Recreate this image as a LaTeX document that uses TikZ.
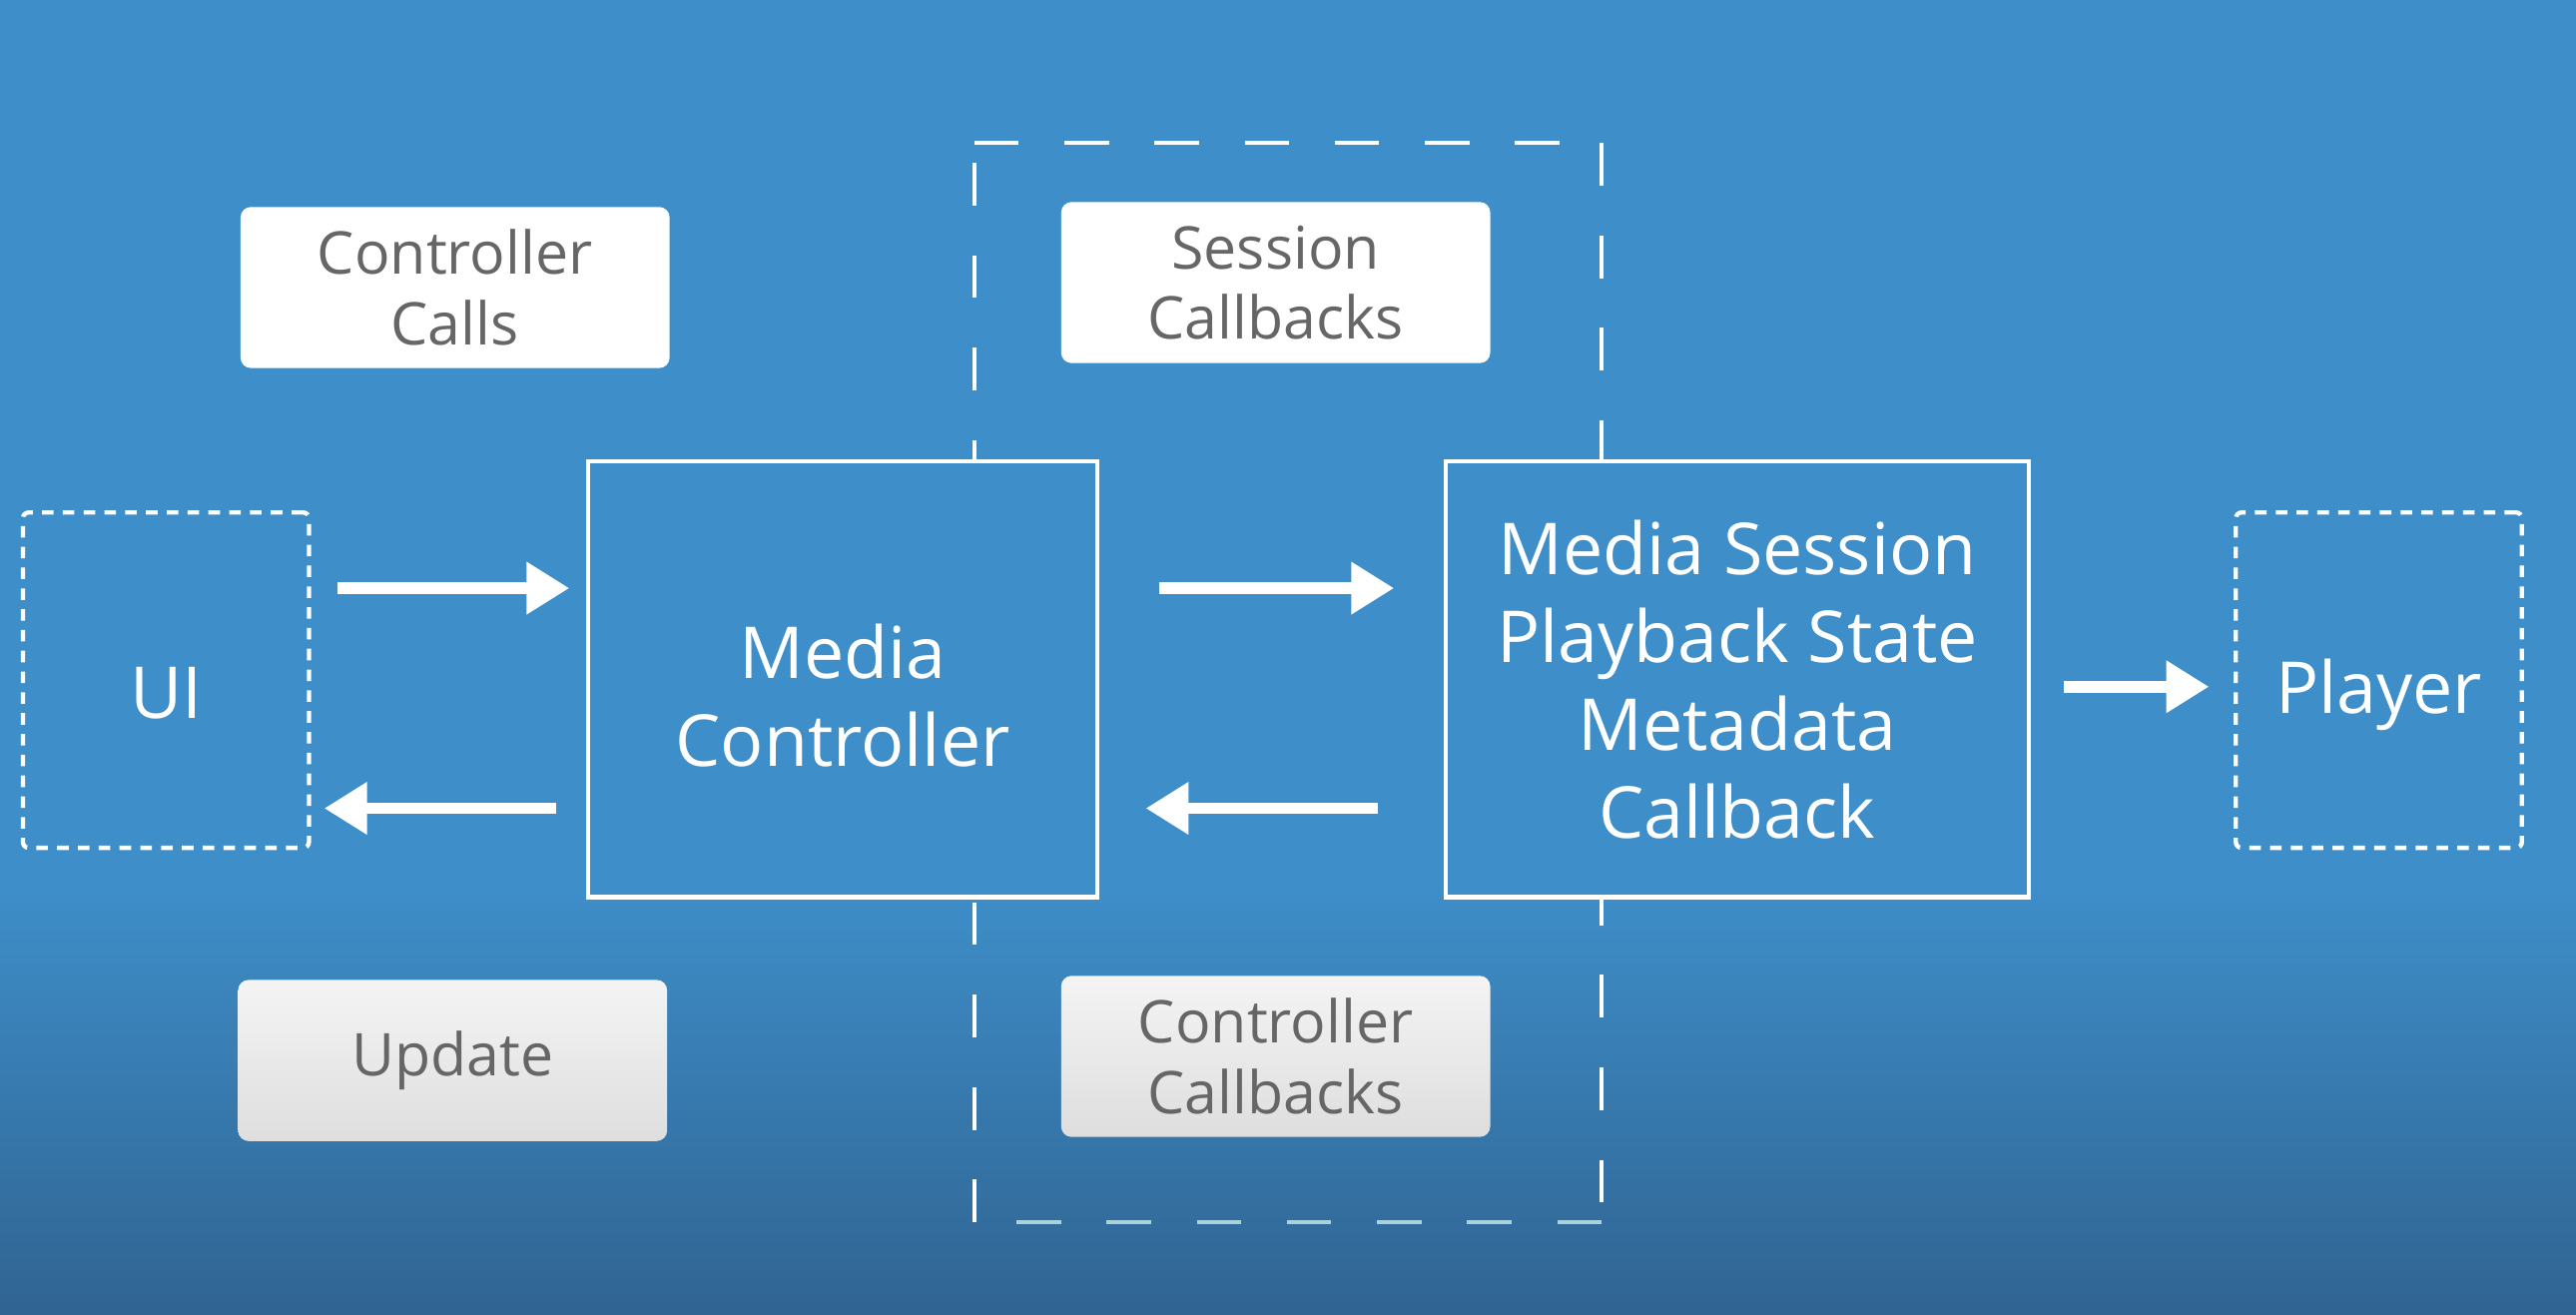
\documentclass[tikz,border=0pt]{standalone}
\usepackage{fontspec}
\setmainfont{Open Sans}
\usetikzlibrary{arrows.meta,calc}
\definecolor{bgtop}{RGB}{62,142,201}
\definecolor{bgbot}{RGB}{48,100,146}
\definecolor{lbl}{RGB}{102,102,102}
\definecolor{botdash}{RGB}{168,210,220}
\definecolor{gtop}{RGB}{244,244,244}
\definecolor{gbot}{RGB}{222,222,222}
\begin{document}
\begin{tikzpicture}[x=0.01cm,y=-0.01cm,
  bigtxt/.style={font=\fontsize{12.4}{15.2}\selectfont, text=white, align=center},
  solidbox/.style={draw=white, line width=0.75pt, fill=bgtop, inner sep=0pt},
  dashbox/.style={draw=white, line width=0.75pt, dash pattern=on 2pt off 1.6pt, rounded corners=1pt, inner sep=0pt},
  whitelbl/.style={fill=white, rounded corners=1.8pt, text=lbl, font=\fontsize{10.2}{12.2}\selectfont, align=center, inner sep=0pt, minimum width=2.61cm, minimum height=0.98cm},
  greylbl/.style={whitelbl, fill=none, top color=gtop, bottom color=gbot},
  flow/.style={draw=white, line width=2pt, -{Triangle[length=7.4pt,width=8.6pt]}},
  hdash/.style={draw=white, line width=0.7pt, dash pattern=on 7.7pt off 7.9pt},
  vdash/.style={draw=white, line width=0.7pt, dash pattern=on 7.4pt off 8.6pt}]
% background
\fill[bgtop] (0,0) rectangle (1568,800);
\shade[top color=bgtop, bottom color=bgbot] (0,540) rectangle (1568,800);
\useasboundingbox (0,0) rectangle (1568,800);
% big dashed frame
\coordinate (g1) at (593,87);
\coordinate (g2) at (975,87);
\coordinate (g3) at (975,744);
\coordinate (g4) at (593,744);
\draw[hdash] (g1) -- (g2);
\draw[vdash] (g2) -- (g3);
\draw[hdash, draw=botdash] (g3) -- (g4);
\draw[vdash] (g4) -- (g1);
% main boxes
\node[dashbox, minimum width=1.74cm, minimum height=2.04cm,
      label={[bigtxt, yshift=-2.3pt]center:UI}] (ui) at (101,414) {};
\node[dashbox, minimum width=1.74cm, minimum height=2.04cm,
      label={[bigtxt, yshift=-2.6pt]center:Player}] (player) at (1448,414) {};
\node[solidbox, minimum width=3.10cm, minimum height=2.65cm,
      label={[bigtxt, yshift=-2.8pt]center:Media\\Controller}] (mc) at (513,413.5) {};
\node[solidbox, minimum width=3.55cm, minimum height=2.65cm,
      label={[bigtxt]center:Media Session\\Playback State\\Metadata\\Callback}] (ms) at (1057.5,413.5) {};
% labels
\node[whitelbl] (cc) at (277,175) {Controller\\Calls};
\node[whitelbl] (sc) at (776.5,172) {Session\\Callbacks};
\node[greylbl] (up) at (275.5,645.5) {Update};
\node[greylbl] (ccb) at (776.5,643) {Controller\\Callbacks};
% arrows
\draw[flow] ($(ui.east)+(16,-56)$) -- ($(mc.west)+(-10,-55.5)$);
\draw[flow] ($(mc.west)+(-18,78.5)$) -- ($(ui.east)+(8,78)$);
\draw[flow] ($(mc.east)+(36,-55.5)$) -- ($(ms.west)+(-30,-55.5)$);
\draw[flow] ($(ms.west)+(-40,78.5)$) -- ($(mc.east)+(28,78.5)$);
\draw[flow] ($(ms.east)+(20,4.5)$) -- ($(player.west)+(-15,4)$);
\end{tikzpicture}
\end{document}
